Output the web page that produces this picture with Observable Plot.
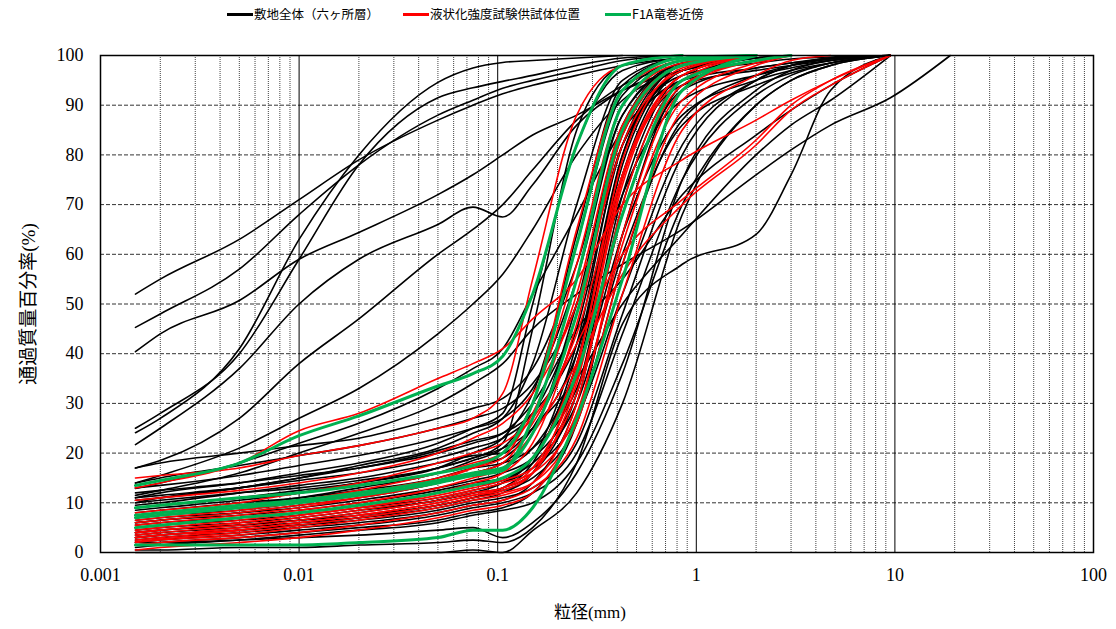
<!DOCTYPE html>
<html><head><meta charset="utf-8">
<script src="https://cdn.jsdelivr.net/npm/d3@7"></script>
<script src="https://cdn.jsdelivr.net/npm/@observablehq/plot@0.6"></script>
<style>
html,body{margin:0;padding:0;background:#fff;}
body{width:1116px;height:629px;overflow:hidden;font-family:"Liberation Serif","Noto Sans CJK JP",serif;}
#legend{position:relative;height:28px;font-size:12.5px;font-family:"Noto Sans CJK JP",sans-serif;color:#000;}
.item{position:absolute;top:6px;display:flex;align-items:center;white-space:nowrap;line-height:16px;}
.sw{display:inline-block;width:26px;height:3px;margin-right:1px;}
svg text{font-family:"Liberation Serif","DejaVu Serif","Noto Sans CJK JP",serif;}
svg text.cjk{font-family:"Noto Sans CJK JP",sans-serif;}
</style></head><body>
<div id="legend"></div>
<div id="chart"></div>
<script>
// particle sizes (mm) at which the passing percentages are read
const D = [0.0015, 0.002, 0.005, 0.01, 0.02, 0.05, 0.075, 0.106, 0.15, 0.25, 0.425, 0.85, 2, 3, 4.75, 9.5, 19];

// legend labels
const legendLabels = ["敷地全体（六ヶ所層）", "液状化強度試験供試体位置", "F1A竜巻近傍"];

// 敷地全体（六ヶ所層） — black
const bk01 = [52, 55, 63, 71, 79, 87, 90, 92.3, 94, 96, 98, 99.5, 100];
const bk02 = [45.3, 48, 57, 68, 78, 88, 91, 93.4, 95, 97, 99, 100];
const bk03 = [40.4, 44, 50.7, 59, 64.4, 72, 76, 80, 84, 88, 93, 97, 99.5, 100];
const bk04 = [24.1, 27, 41, 63, 80, 94.6, 97.5, 98.6, 99, 99.5, 100];
const bk05 = [25, 28, 40, 59, 78, 91.5, 93.5, 94.8, 96, 98, 99.5, 100];
const bk06 = [21.7, 25, 37, 50, 59, 66, 69.5, 67.5, 74, 86, 93, 97, 99.5, 100];
const bk07 = [17, 18.5, 27, 38, 47, 60, 65, 70, 77, 87, 94, 98, 100];
const bk08 = [14, 15.5, 21, 27, 33, 44, 50, 56, 65, 80, 91, 97, 99.5, 100];
const bk09 = [12.9, 14, 18, 22, 26, 33, 37, 41, 52, 68, 85, 95, 99, 100];
const bk10 = [11.5, 12.5, 16, 20, 24, 30, 34, 38, 45, 52, 58, 65, 76, 81, 86, 91.5, 100];
const bk11 = [10.5, 11, 13, 15, 17, 20, 22, 24, 30, 45, 55, 72, 84, 89, 94, 100];
const bk12 = [9.5, 10, 12, 13.5, 15, 18, 19.5, 20, 25, 35, 50, 64, 80, 86, 91, 100];
const bk13 = [0.5, 0.5, 1, 1, 1.5, 2, 2.5, 2, 5, 18, 46, 58, 64, 76, 93, 100];
const bk14 = [0, 0, 0, 0, 0, 0, 0.5, 0, 4.4, 12, 30, 68, 90, 95, 98, 100];
const bk15 = [2, 2, 2.5, 3, 3.5, 4.5, 5, 3, 6, 16, 36, 75, 93, 97, 99, 100];
const bk16 = [17, 18, 20, 21.5, 23, 27, 29, 31, 37, 58, 88, 98, 100];
const bk17 = [14, 15, 17.5, 19.5, 21.5, 25, 27, 29, 34, 50, 82, 95, 97.5, 98.5, 99.3, 100];
const bk18 = [13, 13.5, 15.5, 17.5, 19.5, 23, 25, 27, 33, 55, 88, 98.5, 100];
const bk19 = [12, 12.5, 14, 15.5, 17, 20.5, 22.5, 24, 28, 42, 72, 91, 96, 97.5, 99, 100];
const bk20 = [11, 11.5, 13, 14.5, 16, 19, 21, 23, 28, 48, 84, 98, 100];
const bk21 = [10, 10.5, 12, 13, 14.5, 17, 19, 21, 25, 40, 76, 94, 97, 98, 99, 100];
const bk22 = [9, 9.5, 11, 12, 13.5, 16, 17.5, 19, 25, 45, 82, 98, 100];
const bk23 = [8, 8.5, 10, 11, 12.5, 15, 17, 18, 21, 33, 64, 88, 95, 97, 98.5, 100];
const bk24 = [7, 7.5, 8.5, 10, 11.5, 14, 15.5, 17, 21, 38, 78, 97, 100];
const bk25 = [6.5, 7, 8, 9, 10.5, 13, 14.5, 16, 19, 32, 68, 93, 97.5, 98.5, 99.5, 100];
const bk26 = [6, 6.5, 7.5, 8.5, 10, 12.5, 14, 15, 18, 30, 60, 86, 94, 96.5, 98.5, 100];
const bk27 = [5.5, 6, 7, 8, 9.5, 12, 13.5, 14.5, 19, 38, 80, 98, 100];
const bk28 = [5, 5.5, 6.5, 7.5, 9, 11, 12.5, 14, 17, 27, 52, 82, 95, 98, 99.5, 100];
const bk29 = [4.5, 5, 6, 7, 8.5, 10.5, 12, 13, 16, 32, 72, 96, 100];
const bk30 = [4, 4.5, 5.5, 6.5, 7.5, 9.5, 11, 12.5, 15, 26, 58, 87, 96, 98, 99.3, 100];
const bk31 = [3.5, 4, 5, 6, 7, 9, 10.5, 12, 16, 36, 76, 97, 100];
const bk32 = [3, 3.5, 4.5, 5.5, 6.5, 8.5, 10, 11, 13, 22, 48, 80, 95, 98, 99.5, 100];
const bk33 = [2.5, 3, 4, 5, 6, 8, 9.5, 10.5, 14, 30, 70, 95, 99.5, 100];
const bk34 = [2, 2.5, 3.5, 4.5, 5.5, 7.5, 9, 10, 12, 20, 44, 75, 92, 96, 98.5, 100];
const bk35 = [1.5, 2, 3, 4, 5, 6.5, 8, 9, 12, 26, 64, 94, 99, 100];
const bk36 = [1, 1.5, 2.5, 3.5, 4.5, 6, 7.5, 8.5, 10, 18, 38, 70, 90, 95, 98, 100];
const bk37 = [8.5, 9, 10.5, 12, 14, 17, 20, 23, 32, 62, 92, 99, 100];
const bk38 = [7.5, 8, 9.5, 11, 13, 16, 18.5, 21, 30, 64, 94, 99.5, 100];
const bk39 = [10, 11, 13, 15, 17.5, 21, 24, 27, 38, 70, 95, 99.5, 100];
const bk40 = [6, 6.5, 8, 9.5, 11, 14, 16, 18, 24, 50, 86, 98.5, 100];
const bk41 = [4, 4.5, 5.5, 6.5, 8, 10.5, 12, 14, 19, 42, 82, 96, 98.5, 99.3, 99.7, 100];
const bk42 = [3, 3.5, 4.5, 5.5, 7, 9.5, 11, 13, 18, 40, 80, 97, 100];
const bk43 = [9, 9.5, 11, 12.5, 14, 17, 19, 22, 45, 85, 98, 100];
const bk44 = [11, 12, 14, 16, 18, 22, 25, 28, 50, 82, 97, 99.5, 100];

// 液状化強度試験供試体位置 — red
const rd01 = [15, 15.5, 17, 19.5, 21.5, 25, 27, 32, 55, 88, 98, 100];
const rd02 = [13, 14, 18, 24.5, 28, 35, 38, 41, 47, 55, 70, 79, 87, 91, 95, 100];
const rd03 = [10.5, 11, 12.5, 14, 16, 20, 23, 26, 32, 50, 82, 97, 100];
const rd04 = [7, 7.5, 9, 10.5, 12.5, 16, 18, 20, 28, 52, 86, 98, 100];
const rd05 = [6.5, 7, 8.5, 10, 12, 15, 17, 19, 30, 65, 93, 99, 100];
const rd06 = [6, 6.5, 8, 9.5, 11, 14, 16, 18, 26, 42, 60, 71, 83, 90, 95, 100];
const rd07 = [5, 5.5, 7, 8.5, 10, 13, 15, 17, 24, 38, 56, 70, 82, 89, 94, 100];
const rd08 = [4.5, 5, 6.5, 8, 9.5, 12, 13.5, 15, 19, 38, 76, 96, 100];
const rd09 = [4, 4.5, 6, 7.5, 9, 11.5, 13, 14.5, 17, 32, 68, 94, 99, 100];
const rd10 = [3.5, 4, 5.5, 7, 8.5, 11, 12.5, 14, 16, 28, 62, 91, 98.5, 100];
const rd11 = [3, 3.5, 5, 6.5, 8, 10.5, 12, 13, 16, 34, 74, 96, 100];
const rd12 = [2.5, 3, 4.5, 6, 7.5, 10, 11.5, 12.5, 16, 37, 79, 97.5, 100];
const rd13 = [2.2, 2.7, 4, 5.5, 7, 9.5, 11, 12, 14, 26, 58, 89, 98, 100];
const rd14 = [2, 2.5, 3.5, 5, 6.5, 9, 10.5, 11.5, 14, 30, 70, 95, 100];
const rd15 = [1.5, 2, 3, 4, 5.5, 8, 9.5, 10.5, 13, 23, 52, 85, 96, 99, 100];
const rd16 = [0.5, 1, 2, 3, 4.5, 7, 8.5, 9.5, 12, 27, 64, 93, 99, 100];
const rd17 = [5.5, 6, 7.5, 9, 11, 14.5, 17, 20, 30, 58, 90, 98.5, 100];
const rd18 = [4, 4.5, 6, 7.5, 9, 12, 14, 16, 22, 46, 84, 98, 100];
const rd19 = [3, 3.5, 4.5, 6, 7.5, 10, 11.5, 13, 17, 35, 75, 96, 100];
const rd20 = [8, 8.5, 10, 12, 14, 18, 20, 22, 27, 44, 76, 95, 99, 100];

// F1A竜巻近傍 — green
const gr01 = [1.5, 1.5, 1.5, 1.5, 2, 3, 4.5, 4.5, 9, 27, 55, 93, 100];
const gr02 = [13.5, 14.5, 18, 23.5, 27.5, 33.5, 36, 39.5, 52, 82, 98, 100];
const gr03 = [9, 9.5, 11, 12, 13.5, 16, 17.5, 20, 30, 62, 93, 99.5, 100];
const gr04 = [7.5, 8, 9.5, 10.5, 12, 14.5, 16, 17, 24, 48, 85, 98, 100];
const gr05 = [5, 5.5, 7, 8, 9.5, 12, 13.5, 15, 19, 36, 68, 95, 99, 100];
const gr06 = [7, 7.5, 9, 10, 11.5, 14, 15.5, 16.5, 27, 55, 90, 99, 100];

const blackSeries = [bk01,bk02,bk03,bk04,bk05,bk06,bk07,bk08,bk09,bk10,bk11,bk12,bk13,bk14,bk15,bk16,bk17,bk18,bk19,bk20,bk21,bk22,bk23,bk24,bk25,bk26,bk27,bk28,bk29,bk30,bk31,bk32,bk33,bk34,bk35,bk36,bk37,bk38,bk39,bk40,bk41,bk42,bk43,bk44];
const redSeries = [rd01,rd02,rd03,rd04,rd05,rd06,rd07,rd08,rd09,rd10,rd11,rd12,rd13,rd14,rd15,rd16,rd17,rd18,rd19,rd20];
const greenSeries = [gr01,gr02,gr03,gr04,gr05,gr06];

// axis ticks
const xTicks = [0.001, 0.01, 0.1, 1, 10, 100];
const xTickLabels = ["0.001", "0.01", "0.1", "1", "10", "100"];
const yTicks = [0, 10, 20, 30, 40, 50, 60, 70, 80, 90, 100];
const decades = [0.001, 0.01, 0.1, 1, 10];
const minorMultipliers = [2, 3, 4, 5, 6, 7, 8, 9];

const colors = {black: "#000000", red: "#ff0000", green: "#00b050"};

function toRows(series, group) {
  const out = [];
  series.forEach((vals, k) => {
    vals.forEach((v, i) => { if (v != null) out.push({d: D[i], p: v, id: group + k, group}); });
  });
  return out;
}
const blackRows = toRows(blackSeries, "black");
const redRows = toRows(redSeries, "red");
const greenRows = toRows(greenSeries, "green");

const minorX = decades.flatMap(d => minorMultipliers.map(m => d * m));
const majorX = xTicks.slice(1, -1);
const hGrid = yTicks.slice(1, -1);

// legend
const legendColors = [colors.black, colors.red, colors.green];
const legendLeft = [227, 403, 605];
const lg = document.getElementById("legend");
legendLabels.forEach((t, i) => {
  const s = document.createElement("span");
  s.className = "item";
  s.style.left = legendLeft[i] + "px";
  s.innerHTML = `<span class="sw" style="background:${legendColors[i]}"></span>${t}`;
  lg.appendChild(s);
});

const serif = "Liberation Serif";
const chart = Plot.plot({
  width: 1116,
  height: 601,
  marginTop: 27,
  marginBottom: 77,
  marginLeft: 100,
  marginRight: 23,
  style: {fontFamily: serif, fontSize: "18px", background: "#fff", color: "#000"},
  x: {type: "log", domain: [0.001, 100]},
  y: {domain: [0, 100]},
  marks: [
    Plot.ruleY(hGrid, {stroke: "#333", strokeWidth: 1, strokeDasharray: "4,2"}),
    Plot.ruleX(minorX, {stroke: "#444", strokeWidth: 1, strokeDasharray: "1,1"}),
    Plot.ruleX(majorX, {stroke: "#000", strokeWidth: 1}),
    Plot.line(blackRows, {x: "d", y: "p", z: "id", stroke: colors.black, strokeWidth: 1.6, curve: "monotone-x"}),
    Plot.line(redRows, {x: "d", y: "p", z: "id", stroke: colors.red, strokeWidth: 1.6, curve: "monotone-x"}),
    Plot.line(greenRows, {x: "d", y: "p", z: "id", stroke: colors.green, strokeWidth: 3, curve: "monotone-x"}),
    Plot.frame({stroke: "#000", strokeWidth: 1.5}),
    Plot.axisX({ticks: xTicks, tickFormat: d => xTickLabels[xTicks.indexOf(d)], tickSize: 0, tickPadding: 16, fontSize: 18, fontFamily: serif, label: null}),
    Plot.axisY({ticks: yTicks, tickSize: 0, tickPadding: 17, fontSize: 18, fontFamily: serif, label: null}),
    Plot.text(["通過質量百分率(%)"], {frameAnchor: "left", dx: -72, rotate: -90, fontSize: 19, textAnchor: "middle", lineAnchor: "middle", className: "cjk"}),
    Plot.text(["粒径(mm)"], {frameAnchor: "bottom", dy: 60, dx: -7, fontSize: 17, textAnchor: "middle", lineAnchor: "middle", className: "cjk"})
  ]
});
document.getElementById("chart").appendChild(chart);
</script>
</body></html>
